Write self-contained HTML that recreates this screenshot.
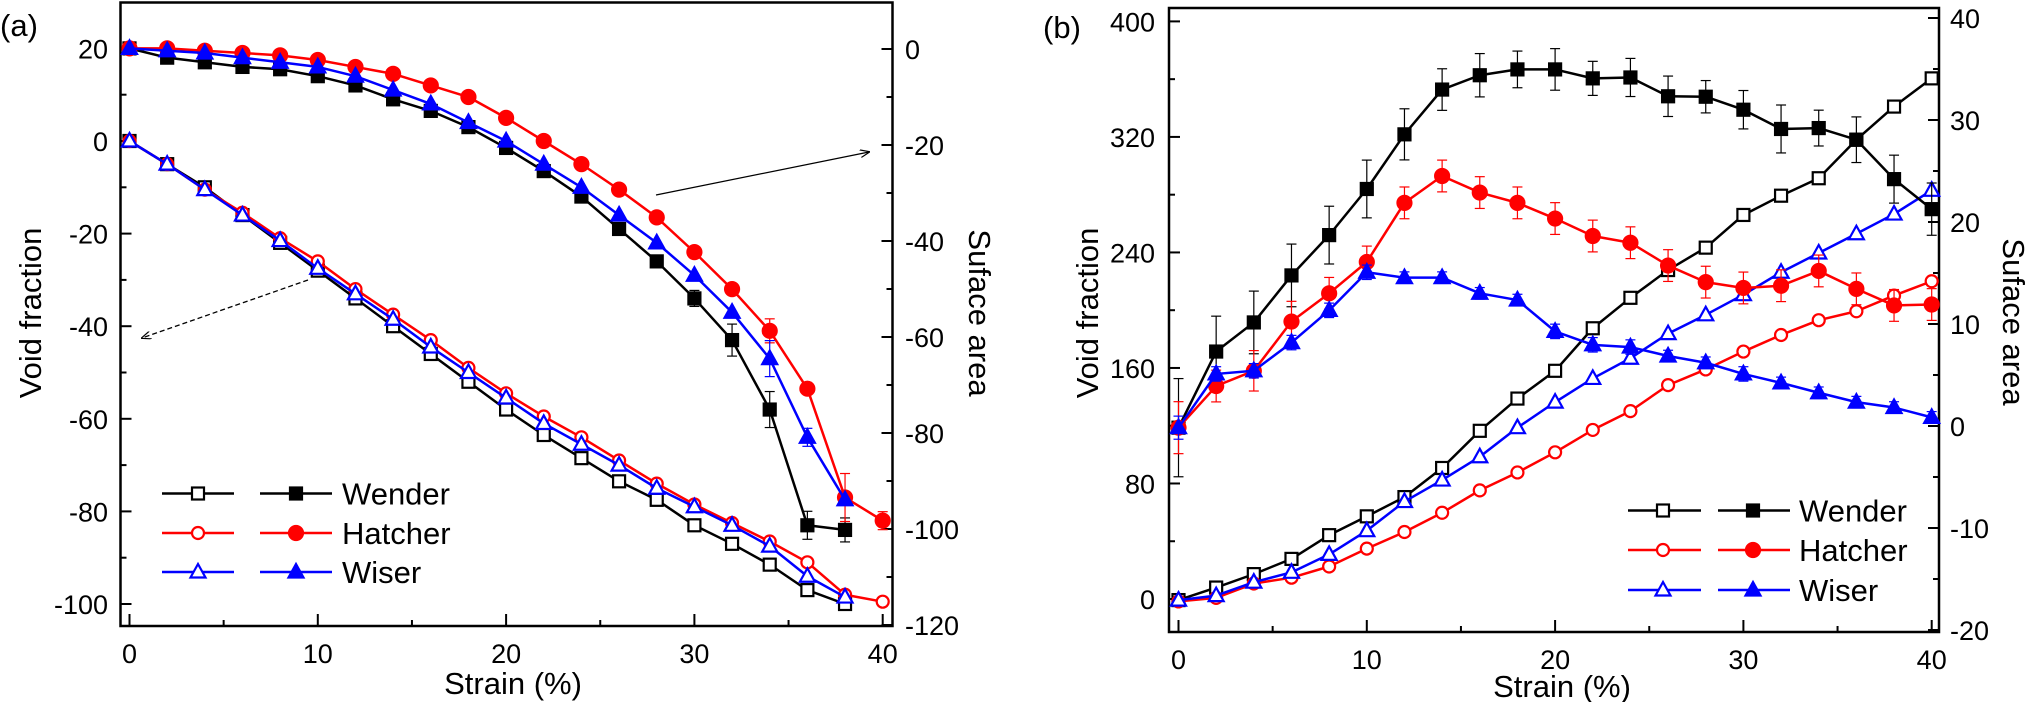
<!DOCTYPE html>
<html><head><meta charset="utf-8">
<style>
html,body{margin:0;padding:0;background:#fff;}
svg{display:block;font-family:"Liberation Sans",Arial,sans-serif;}
</style></head>
<body>
<svg id="s" width="2031" height="702" viewBox="0 0 2031 702" xmlns="http://www.w3.org/2000/svg">
<defs>
<marker id="ah" markerWidth="10" markerHeight="8" refX="9" refY="4" orient="auto" markerUnits="userSpaceOnUse"><path d="M0,0 L10,4 L0,8" fill="none" stroke="#000" stroke-width="1.2"/></marker>
</defs>
<text x="513" y="694" font-size="31" text-anchor="middle">Strain (%)</text>
<text x="1562" y="697" font-size="31" text-anchor="middle">Strain (%)</text>
</svg>
<script>
var S=document.getElementById('s');var NS='http://www.w3.org/2000/svg';
function el(t,a,txt){var e=document.createElementNS(NS,t);for(var k in a)e.setAttribute(k,a[k]);if(txt!==undefined)e.textContent=txt;S.appendChild(e);return e;}
function line(x1,y1,x2,y2,c,w,extra){var a={x1:x1,y1:y1,x2:x2,y2:y2,stroke:c,'stroke-width':w};for(var k in extra)a[k]=extra[k];return el('line',a);}
function marker(type,x,y,c,filled){
 var f=filled?c:'#fff';var sw=2.2;
 if(type=='s'){el('rect',{x:x-6,y:y-6,width:12,height:12,fill:f,stroke:c,'stroke-width':sw});}
 else if(type=='c'){el('circle',{cx:x,cy:y,r:filled?7:6,fill:f,stroke:c,'stroke-width':sw});}
 else {el('polygon',{points:(x)+','+(y-8)+' '+(x+7.5)+','+(y+5.5)+' '+(x-7.5)+','+(y+5.5),fill:f,stroke:c,'stroke-width':sw});}
}
function series(xs,ys,c,type,filled,err){
 var pts=xs.map(function(x,i){return x+','+ys[i];}).join(' ');
 if(err){xs.forEach(function(x,i){var e=err[i];if(!e)return;line(x,ys[i]-e,x,ys[i]+e,c,1.2);line(x-5,ys[i]-e,x+5,ys[i]-e,c,1.2);line(x-5,ys[i]+e,x+5,ys[i]+e,c,1.2);});}
 el('polyline',{points:pts,fill:'none',stroke:c,'stroke-width':2.5,'stroke-linejoin':'round'});
 xs.forEach(function(x,i){marker(type,x,ys[i],c,filled);});
}
var K='#000',R='#ff0000',B='#0000ff';
// ---------- Panel A ----------
(function(){
 var L=120.5,Rt=892.5,T=2.5,Bt=626;
 function X(s){return 129.5+18.83*s;}
 function Y(v){return 141-4.63*v;}
 function Yr(v){return 49-4.8*v;}
 el('rect',{x:L,y:T,width:Rt-L,height:Bt-T,fill:'none',stroke:K,'stroke-width':2.5});
 for(var s=0;s<=40;s+=5){var mj=s%10==0;line(X(s),Bt,X(s),Bt-(mj?12:6),K,2);if(mj)el('text',{x:X(s),y:663,'font-size':27,'text-anchor':'middle'},''+s);}
 for(var v=20;v>=-100;v-=10){var mj=v%20==0;line(L,Y(v),L+(mj?11:6),Y(v),K,2);if(mj)el('text',{x:108,y:Y(v)+10,'font-size':27,'text-anchor':'end'},''+v);}
 for(var v=0;v>=-120;v-=10){var mj=v%20==0;line(Rt,Yr(v),Rt-(mj?11:6),Yr(v),K,2);if(mj)el('text',{x:905,y:Yr(v)+10,'font-size':27},''+v);}
 el('text',{x:0,y:36,'font-size':31},'(a)');
 el('text',{x:0,y:0,'font-size':31,'text-anchor':'middle',transform:'translate(41,313) rotate(-90)'},'Void fraction');
 el('text',{x:0,y:0,'font-size':31,'text-anchor':'middle',transform:'translate(969,313) rotate(90)'},'Suface area');
 line(656,195,869,152,K,1.3,{'marker-end':'url(#ah)'});
 line(308,280,142,338,K,1.3,{'stroke-dasharray':'5,3','marker-end':'url(#ah)'});
 function xs(n){var a=[];for(var i=0;i<n;i++)a.push(X(2*i));return a;}
 function ys(v){return v.map(Y);}
 var wo=[0,-5,-10,-16,-22,-28,-34,-40,-46,-52,-58,-63.5,-68.5,-73.5,-77.5,-83,-87,-91.5,-97,-100];
 var ho=[0,-5,-10.5,-15.5,-21,-26,-32,-37.5,-43,-49,-54.5,-59.5,-64,-69,-74,-78.5,-82.5,-86.5,-91,-98,-99.5];
 var io=[0,-5,-10.5,-16,-21.5,-27.5,-33,-38.5,-44.5,-50,-55.5,-61,-65.5,-70,-75,-79,-83,-87.5,-94,-98.5];
 var wf=[20,18,17,16,15.5,14,12,9,6.5,3,-1.5,-6.5,-12,-19,-26,-34,-43,-58,-83,-84];
 var hf=[20,20,19.5,19,18.5,17.5,16,14.5,12,9.5,5,0,-5,-10.5,-16.5,-24,-32,-41,-53.5,-77,-82];
 var iff=[20,19.5,19,18,17,16,14,11,8,4,0,-5,-10,-16,-22,-29,-37,-47,-64,-77.5];
 var ew=[];ew[15]=8;ew[16]=16;ew[17]=18;ew[18]=14;ew[19]=12;
 var eh=[];eh[17]=12;eh[19]=24;eh[20]=9;
 var ei=[];ei[17]=18;ei[18]=9;
 series(xs(20),ys(wo),K,'s',false);
 series(xs(21),ys(ho),R,'c',false);
 series(xs(20),ys(io),B,'t',false);
 series(xs(20),ys(wf),K,'s',true,ew);
 series(xs(21),ys(hf),R,'c',true,eh);
 series(xs(20),ys(iff),B,'t',true,ei);
 var rows=[[493.5,K,'s','Wender'],[533,R,'c','Hatcher'],[572,B,'t','Wiser']];
 rows.forEach(function(r){line(162,r[0],234,r[0],r[1],2.5);marker(r[2],198,r[0],r[1],false);line(260,r[0],332,r[0],r[1],2.5);marker(r[2],296,r[0],r[1],true);el('text',{x:342,y:r[0]+11,'font-size':31},r[3]);});
})();
// ---------- Panel B ----------
(function(){
 var L=1169,Rt=1939,T=8,Bt=632;
 function X(s){return 1178.5+18.83*s;}
 function Y(v){return 599-1.444*v;}
 function Yr(v){return 426-10.2*v;}
 el('rect',{x:L,y:T,width:Rt-L,height:Bt-T,fill:'none',stroke:K,'stroke-width':2.5});
 for(var s=0;s<=40;s+=5){var mj=s%10==0;line(X(s),Bt,X(s),Bt-(mj?12:6),K,2);if(mj)el('text',{x:X(s),y:669,'font-size':27,'text-anchor':'middle'},''+s);}
 for(var v=0;v<=400;v+=40){var mj=v%80==0;line(L,Y(v),L+(mj?11:6),Y(v),K,2);if(mj)el('text',{x:1155,y:Y(v)+10,'font-size':27,'text-anchor':'end'},''+v);}
 for(var v=-20;v<=40;v+=5){var mj=v%10==0;line(Rt,Yr(v),Rt-(mj?11:6),Yr(v),K,2);if(mj)el('text',{x:1950,y:Yr(v)+10,'font-size':27},''+v);}
 el('text',{x:1043,y:38,'font-size':31},'(b)');
 el('text',{x:0,y:0,'font-size':31,'text-anchor':'middle',transform:'translate(1098,313) rotate(-90)'},'Void fraction');
 el('text',{x:0,y:0,'font-size':31,'text-anchor':'middle',transform:'translate(2003,322) rotate(90)'},'Suface area');
 function xs(){var a=[];for(var i=0;i<21;i++)a.push(X(2*i));return a;}
 function zy(a){return a.map(function(z){return z/2.233;});}
 function ep(a){return a.map(function(e){return e*1.444;});}
 var wf=[955,785,720,615,525,422,300,200,168,155,155,175,173,215,216,245,288,286,312,400,467];
 var hf=[955,862,828,718,655,585,453,393,430,453,488,527,542,593,630,643,638,605,645,682,680];
 var iff=[955,835,828,765,693,608,620,620,655,670,740,770,775,795,810,835,855,877,898,910,932];
 var wo=[1340,1312,1282,1248,1195,1153,1110,1045,962,890,828,733,665,603,553,480,437,398,312,238,175];
 var ho=[1343,1335,1303,1290,1265,1225,1188,1145,1095,1055,1010,960,918,860,825,785,748,715,695,660,628];
 var io=[1340,1330,1300,1278,1238,1185,1120,1072,1020,955,898,845,800,745,703,658,608,565,522,478,425];
 var ew=ep([34,24.5,21.7,21.7,20,20,17.7,14.4,15,12.7,14.4,11.8,13.2,14,11.2,13.3,16.6,12.4,15.8,16.6,18.1]);
 var eh=ep([18,11,14,14,11,11,11,11,11,11,11,11,11,11,11,11,11,11,11,11,11]);
 var ei=ep([8,5,5,5,5,5,4,4,4,4,5,5,5,4,4,5,4,4,4,4,4]);
 series(xs(),zy(wo),K,'s',false);
 series(xs(),zy(ho),R,'c',false);
 series(xs(),zy(io),B,'t',false);
 series(xs(),zy(wf),K,'s',true,ew);
 series(xs(),zy(hf),R,'c',true,eh);
 series(xs(),zy(iff),B,'t',true,ei);
 var rows=[[510.5,K,'s','Wender'],[550,R,'c','Hatcher'],[590,B,'t','Wiser']];
 rows.forEach(function(r){line(1628,r[0],1701,r[0],r[1],2.5);marker(r[2],1663,r[0],r[1],false);line(1718,r[0],1790,r[0],r[1],2.5);marker(r[2],1753,r[0],r[1],true);el('text',{x:1799,y:r[0]+11,'font-size':31},r[3]);});
})();
</script>
</body></html>
